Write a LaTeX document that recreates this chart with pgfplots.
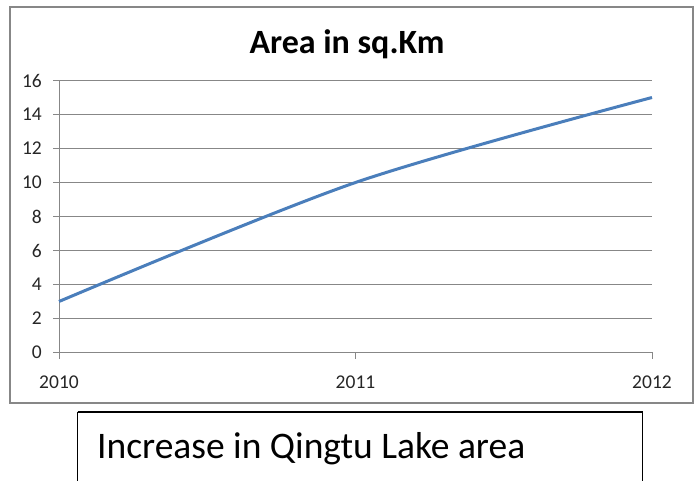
\documentclass[border=0pt]{standalone}
\usepackage{pgfplots}
\pgfplotsset{compat=1.18}
\usepackage{fontspec}
\setmainfont{Carlito}
\definecolor{lineblue}{HTML}{4A7EBB}
\definecolor{gridgray}{HTML}{878787}
\begin{document}
\begin{tikzpicture}[x=1pt,y=1pt]
\path[use as bounding box] (0,0) rectangle (697,-481);
\begin{scope}
\clip (0,0) rectangle (697,-481);
\draw[gridgray, line width=1.2pt] (10,-7) rectangle (693,-403);
\draw[black, line width=1.5pt] (77.5,-412) -- (642.5,-412) -- (642.5,-495) (77.5,-412) -- (77.5,-495);
\end{scope}
\node[anchor=base, inner sep=0pt, font=\fontsize{34}{40}\selectfont\bfseries] at (347,-54) {Area in sq.Km};
\node[anchor=base west, inner sep=0pt, font=\fontsize{37.5}{44}\selectfont] at (97,-458) {Increase in Qingtu Lake area};
\begin{axis}[
  at={(59pt,-352.5pt)}, anchor=origin,
  scale only axis, width=593pt, height=272pt,
  xmin=2010, xmax=2012, ymin=0, ymax=16,
  axis x line=bottom, axis y line=left,
  axis line style={gridgray, line width=1pt, -},
  xtick={2010,2011,2012}, ytick={0,2,...,16},
  tick align=outside, major tick length=6pt,
  tick style={gridgray, line width=1pt},
  ymajorgrids, grid style={gridgray, line width=1pt},
  /pgf/number format/1000 sep={},
  /pgf/number format/assume math mode=true,
  ticklabel style={font=\fontsize{19.5}{23}\selectfont, text=black!85},
  yticklabel style={inner sep=0pt, anchor=east, xshift=-11pt},
  xticklabel style={inner sep=0pt, anchor=base, yshift=-30pt},
  clip=false,
]
\addplot[color=lineblue, line width=3pt, smooth, tension=0.5] coordinates {(2010,3) (2011,10) (2012,15)};
\end{axis}
\end{tikzpicture}
\end{document}
